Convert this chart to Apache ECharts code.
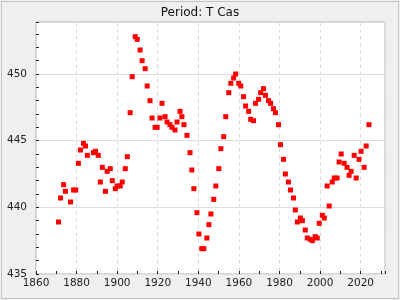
<!DOCTYPE html>
<html><head><meta charset="utf-8">
<script src="https://cdn.jsdelivr.net/npm/echarts@6/dist/echarts.min.js"></script>
<style>html,body{margin:0;padding:0;background:#efefef}#c{width:400px;height:300px}</style>
</head><body><div id="c"></div>
<script>
const title = "Period: T Cas";
const years = [1871.1,1872.1,1873.6,1874.5,1877.0,1878.5,1879.6,1880.9,1881.9,1883.4,1884.4,1885.3,1888.3,1889.3,1890.7,1891.7,1892.7,1894.2,1895.1,1896.6,1897.6,1899.1,1900.0,1901.5,1902.5,1904.0,1905.0,1906.4,1907.4,1908.9,1909.9,1911.3,1912.3,1913.8,1914.8,1916.2,1917.2,1918.7,1919.7,1921.1,1922.1,1923.6,1924.6,1926.0,1927.0,1928.5,1929.5,1931.0,1931.9,1932.9,1934.4,1935.9,1936.8,1937.8,1939.3,1940.3,1941.7,1942.7,1944.2,1945.2,1946.2,1947.6,1948.6,1950.1,1951.1,1952.5,1953.5,1955.0,1956.0,1957.4,1958.4,1959.9,1960.9,1962.3,1963.3,1964.8,1965.8,1967.2,1968.2,1969.7,1970.7,1972.1,1973.1,1974.6,1975.6,1977.0,1978.0,1979.5,1980.5,1982.0,1982.9,1984.4,1985.4,1986.9,1987.8,1988.8,1990.3,1991.3,1992.7,1993.7,1995.2,1996.2,1997.6,1998.6,1999.6,2001.1,2002.1,2003.5,2004.5,2006.0,2007.0,2008.4,2009.4,2010.4,2011.9,2013.3,2014.3,2015.3,2016.8,2017.8,2019.2,2020.2,2021.7,2022.7,2024.1];
const periods = [438.9,440.7,441.7,441.2,440.4,441.3,441.3,443.3,444.3,444.8,444.6,443.9,444.1,444.2,443.9,441.9,443.0,441.2,442.7,442.9,442.0,441.4,441.6,441.6,441.9,442.9,443.8,447.1,449.8,452.8,452.6,451.8,451.0,450.4,449.1,448.0,446.7,446.0,446.0,446.7,447.8,446.8,446.4,446.2,446.0,445.8,446.4,447.2,446.8,446.2,445.4,444.1,442.8,441.4,439.6,438.0,436.9,436.9,437.7,438.7,439.5,440.6,441.6,442.9,444.4,445.3,446.8,448.6,449.3,449.7,450.0,449.3,449.1,448.3,447.6,447.2,446.6,446.5,447.8,448.1,448.6,448.9,448.4,448.0,447.8,447.4,447.1,446.2,444.7,443.6,442.5,441.9,441.3,440.7,439.8,438.9,439.2,439.0,438.3,437.7,437.6,437.5,437.8,437.7,438.8,439.4,439.2,441.6,440.1,441.9,442.2,442.2,443.4,444.0,443.3,443.0,442.4,442.7,443.9,442.2,443.6,444.2,443.0,444.6,446.2];
const xMin = 1860, xMax = 2032, xMajor = 20, xMinor = 10;
const yMin = 435, yMax = 453.9, yMajor = 5, yMinor = 1;

const chart = echarts.init(document.getElementById('c'), null, {renderer:'canvas'});
const lbl = {color:'#222', fontFamily:'DejaVu Sans', fontSize:10.5};
const hideOff = (step) => (v) => (Math.abs(v/step - Math.round(v/step)) < 1e-6 ? String(v) : '');
chart.setOption({
  backgroundColor:'#efefef',
  animation:false,
  title:{text:title, left:'center', top:2, textStyle:{fontFamily:'DejaVu Sans', fontSize:12, fontWeight:'normal', color:'#111'}},
  grid:{left:36, top:22, right:15, bottom:26, show:true, backgroundColor:'#fff', borderColor:'#b4b4b4', borderWidth:1},
  graphic:[{type:'rect', shape:{x:1.5,y:1.5,width:397,height:297}, style:{fill:null, stroke:'#c4c4c4', lineWidth:1}, silent:true, z:-1}],
  xAxis:[
    {type:'value', min:xMin, max:xMax, interval:xMajor, position:'bottom',
     axisLine:{show:false}, axisTick:{show:false},
     axisLabel:Object.assign({margin:4, formatter:hideOff(xMajor)}, lbl),
     splitLine:{show:true, lineStyle:{color:'#dcdcdc', type:[4,3], width:1}}},
    {type:'value', min:xMin, max:xMax, interval:xMinor, position:'bottom', offset:0,
     axisLine:{show:false}, axisLabel:{show:false}, splitLine:{show:false},
     axisTick:{show:true, inside:true, length:3, lineStyle:{color:'#222'}}}
  ],
  yAxis:[
    {type:'value', min:yMin, max:yMax, interval:yMajor, position:'left',
     axisLine:{show:false}, axisTick:{show:false},
     axisLabel:Object.assign({margin:9, formatter:hideOff(yMajor)}, lbl),
     splitLine:{show:true, lineStyle:{color:'#dcdcdc', width:1}}},
    {type:'value', min:yMin, max:yMax, interval:yMinor, position:'left', offset:0,
     axisLine:{show:false}, axisLabel:{show:false}, splitLine:{show:false},
     axisTick:{show:true, inside:true, length:3, lineStyle:{color:'#222'}}}
  ],
  series:[{type:'scatter', xAxisIndex:0, yAxisIndex:0, symbol:'rect', symbolSize:5,
    itemStyle:{color:'#ff0000', opacity:1},
    data: years.map((y,i)=>[y, periods[i]])}]
});
</script></body></html>
